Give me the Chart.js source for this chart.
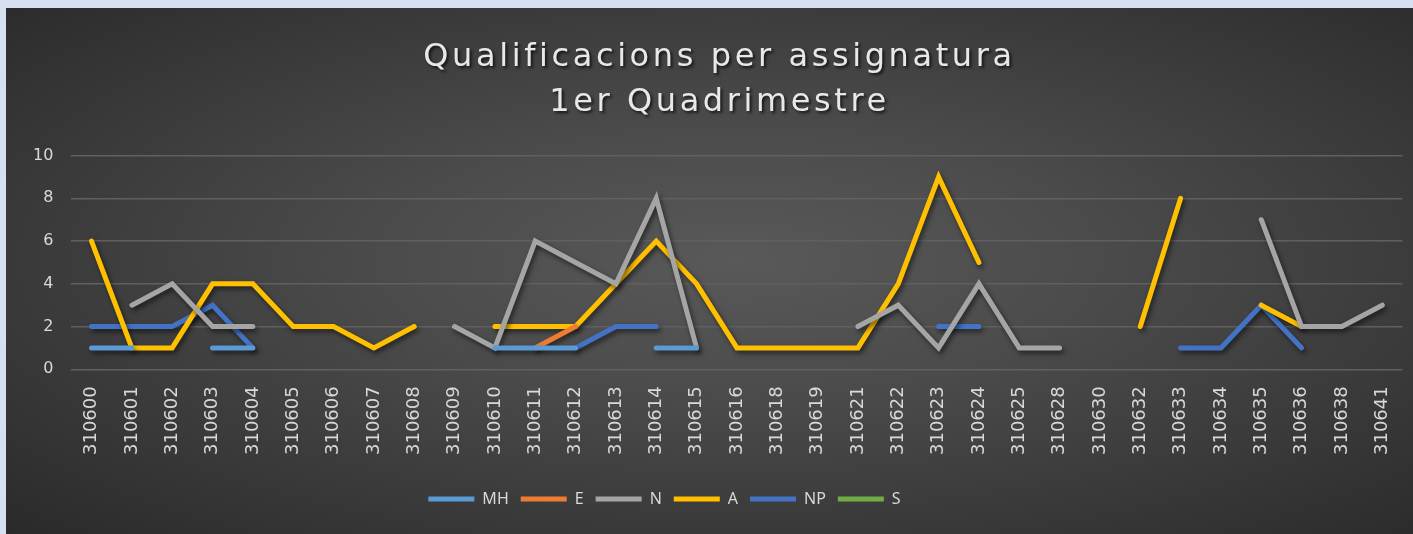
<!DOCTYPE html>
<html>
<head>
<meta charset="utf-8">
<script src="https://cdn.jsdelivr.net/npm/chart.js@4.4.1/dist/chart.umd.min.js"></script>
<style>
  html, body { margin: 0; padding: 0; }
  body { width: 1413px; height: 534px; background: #d6e0f1; position: relative; overflow: hidden; }
  #wrap {
    position: absolute; left: 6px; top: 8px; width: 1407px; height: 526px;
    background: radial-gradient(ellipse farthest-corner at 52% 48%, #595959 0%, #4b4b4b 35%, #2a2a2a 100%);
  }
</style>
</head>
<body>
<div id="wrap"><canvas id="chart" width="1407" height="526"></canvas></div>
<script>
// subject codes
const categories = [
  "310600", "310601", "310602", "310603", "310604", "310605", "310606", "310607",
  "310608", "310609", "310610", "310611", "310612", "310613", "310614", "310615",
  "310616", "310618", "310619", "310621", "310622", "310623", "310624", "310625",
  "310628", "310630", "310632", "310633", "310634", "310635", "310636", "310638",
  "310641"
];

// grades per subject (null = no value, line is broken)
const mh = [1, 1, null, 1, 1, null, null, null, null, null, 1, 1, 1, null, 1, 1,
  null, null, null, null, null, null, null, null, null, null, null, null, null, null, null, null, null];
const e = [null, null, null, null, null, null, null, null, null, null, null, 1, 2, null, null, null,
  null, null, null, null, null, null, null, null, null, null, null, null, null, null, null, null, null];
const n = [null, 3, 4, 2, 2, null, null, null, null, 2, 1, 6, 5, 4, 8, 1,
  null, null, null, 2, 3, 1, 4, 1, 1, null, null, null, null, 7, 2, 2, 3];
const a = [6, 1, 1, 4, 4, 2, 2, 1, 2, null, 2, 2, 2, 4, 6, 4,
  1, 1, 1, 1, 4, 9, 5, null, null, null, 2, 8, null, 3, 2, null, null];
const np = [2, 2, 2, 3, 1, null, null, null, null, null, null, null, 1, 2, 2, null,
  null, null, null, null, null, 2, 2, null, null, null, null, 1, 1, 3, 1, null, null];
const s = categories.map(() => null);

const yTicks = [0, 2, 4, 6, 8, 10];

function line(label, data, color) {
  return {
    label, data,
    borderColor: color,
    backgroundColor: color,
    borderWidth: 5,
    borderCapStyle: "round",
    borderJoinStyle: "miter",
    pointRadius: 0,
    pointHoverRadius: 0,
    tension: 0,
    spanGaps: false
  };
}

// soft drop shadow under the lines
const lineShadow = {
  id: "lineShadow",
  beforeDatasetsDraw(chart) {
    const ctx = chart.ctx;
    ctx.save();
    ctx.shadowColor = "rgba(0,0,0,0.55)";
    ctx.shadowBlur = 5;
    ctx.shadowOffsetX = 2;
    ctx.shadowOffsetY = 3;
  },
  afterDatasetsDraw(chart) {
    chart.ctx.restore();
  }
};

// the legend sits a bit left of the centre in the original
const legendShift = {
  id: "legendShift",
  afterLayout(chart) {
    if (chart.legend) chart.legend.right -= 92;
  }
};

const textColor = "#d9d9d9";

const chart = new Chart(document.getElementById("chart"), {
  type: "line",
  data: {
    labels: categories,
    datasets: [
      line("MH", mh, "#5b9bd5"),
      line("E", e, "#ed7d31"),
      line("N", n, "#a5a5a5"),
      line("A", a, "#ffc000"),
      line("NP", np, "#4472c4"),
      line("S", s, "#70ad47")
    ]
  },
  options: {
    responsive: false,
    animation: false,
    layout: { padding: { left: 9, right: 7, top: 0, bottom: 17 } },
    plugins: {
      title: {
        display: true,
        text: ["Qualificacions per assignatura", "1er Quadrimestre"],
        color: "#e8e8e8",
        font: { family: "DejaVu Sans", size: 32, weight: "normal", lineHeight: 1.4 },
        padding: { top: 27, bottom: 31 }
      },
      legend: {
        position: "bottom",
        labels: {
          color: textColor,
          font: { family: "Noto Sans", size: 16 },
          usePointStyle: true,
          pointStyle: "line",
          pointStyleWidth: 46,
          padding: 12
        }
      },
      tooltip: { enabled: false }
    },
    scales: {
      x: {
        offset: true,
        grid: { display: false },
        border: { display: false },
        afterFit(scale) { scale.height += 15; },
        ticks: {
          color: textColor,
          font: { family: "DejaVu Sans", size: 18 },
          minRotation: 90,
          maxRotation: 90,
          autoSkip: false,
          padding: 9
        }
      },
      y: {
        min: 0,
        max: 10,
        afterBuildTicks(scale) {
          scale.ticks = yTicks.map(v => ({ value: v }));
        },
        grid: { color: "#606060", lineWidth: 1.5, drawTicks: false },
        border: { display: false },
        ticks: {
          color: textColor,
          font: { family: "DejaVu Sans", size: 16 },
          padding: 18
        }
      }
    }
  },
  plugins: [lineShadow, legendShift]
});

// wider letter spacing and a shadow for the title, like the slide theme
const titleBox = chart.titleBlock;
const drawTitle = titleBox.draw;
titleBox.draw = function () {
  const ctx = this.ctx;
  ctx.save();
  ctx.translate(9, 0);
  ctx.letterSpacing = "3.6px";
  ctx.shadowColor = "rgba(0,0,0,0.7)";
  ctx.shadowBlur = 3;
  ctx.shadowOffsetX = 2;
  ctx.shadowOffsetY = 2;
  drawTitle.apply(this, arguments);
  ctx.restore();
};
chart.draw();
</script>
</body>
</html>
